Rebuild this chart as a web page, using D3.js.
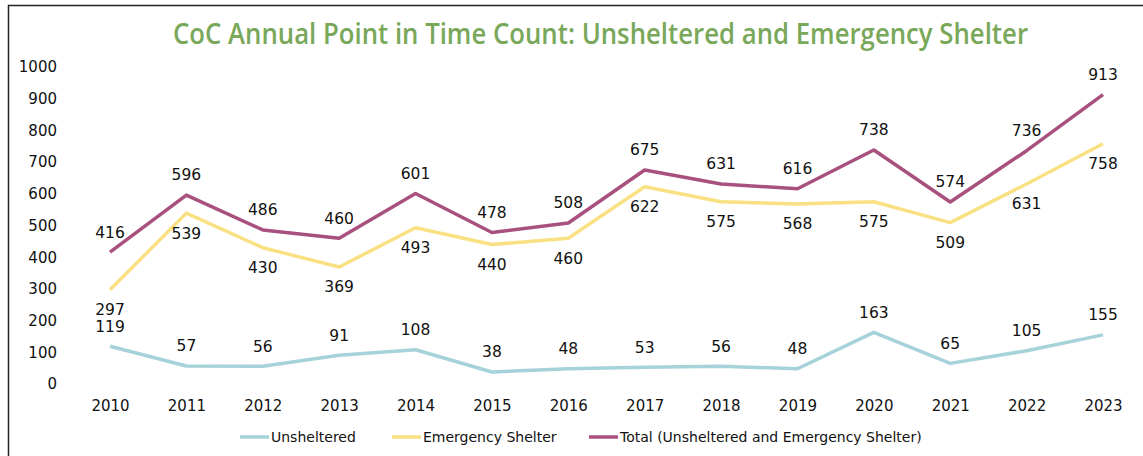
<!DOCTYPE html>
<head>
    <meta charset="utf-8"/>
    <script src="https://d3js.org/d3.v7.min.js"></script>
    <style>
        body { margin: 0; background: #fff; }
        text { font-family: "DejaVu Sans", sans-serif; fill: #111; }
    </style>
</head>
<body>
<script>
    var width = 1143,
        height = 456;

    var years = ["2010", "2011", "2012", "2013", "2014", "2015", "2016", "2017", "2018", "2019", "2020", "2021", "2022", "2023"];
    var unsheltered = [119, 57, 56, 91, 108, 38, 48, 53, 56, 48, 163, 65, 105, 155];
    var emergency = [297, 539, 430, 369, 493, 440, 460, 622, 575, 568, 575, 509, 631, 758];
    var total = [416, 596, 486, 460, 601, 478, 508, 675, 631, 616, 738, 574, 736, 913];
    var yTicks = [0, 100, 200, 300, 400, 500, 600, 700, 800, 900, 1000];

    // label side: -1 above, +1 below
    var series = [
        {name: "Unsheltered", values: unsheltered, color: "#a6d2da", side: -1},
        {name: "Emergency Shelter", values: emergency, color: "#f9e183", side: 1},
        {name: "Total (Unsheltered and Emergency Shelter)", values: total, color: "#a8517f", side: -1}
    ];

    var svg = d3.select("body").append("svg")
        .attr("width", width)
        .attr("height", height);

    // cadre
    svg.append("path")
        .attr("d", "M8.5," + (height + 5) + "V5.5H" + (width + 5))
        .attr("fill", "none")
        .attr("stroke", "#222")
        .attr("stroke-width", 1.5);

    // titre compresse a la largeur voulue
    svg.append("text")
        .attr("x", 173)
        .attr("y", 44)
        .attr("textLength", 855)
        .attr("lengthAdjust", "spacingAndGlyphs")
        .style("font-family", "'Open Sans', sans-serif")
        .style("font-weight", 600)
        .style("font-size", "29px")
        .style("fill", "#79a85a")
        .text("CoC Annual Point in Time Count: Unsheltered and Emergency Shelter");

    var x = d3.scalePoint().domain(years).range([110, 1103]);
    var y = d3.scaleLinear().domain([0, 1000]).range([384, 67]);

    var yAxis = svg.append("g")
        .attr("transform", "translate(57,0)")
        .call(d3.axisLeft(y).tickValues(yTicks).tickSize(0).tickPadding(0).tickFormat(d3.format("d")));
    yAxis.select(".domain").remove();
    yAxis.selectAll("text").style("font-size", "15px").attr("fill", "#111");

    var xAxis = svg.append("g")
        .attr("transform", "translate(0,400)")
        .call(d3.axisBottom(x).tickSize(0).tickPadding(0));
    xAxis.select(".domain").remove();
    xAxis.selectAll("text").style("font-size", "15px").attr("fill", "#111");

    var line = d3.line()
        .x(function (d, i) { return x(years[i]); })
        .y(function (d) { return y(d); });

    series.forEach(function (s) {
        svg.append("path")
            .datum(s.values)
            .attr("fill", "none")
            .attr("stroke", s.color)
            .attr("stroke-width", 3.5)
            .attr("stroke-linejoin", "round")
            .attr("d", line);
    });

    series.forEach(function (s) {
        svg.append("g").selectAll("text")
            .data(s.values)
            .join("text")
            .attr("x", function (d, i) { return x(years[i]); })
            .attr("y", function (d) { return y(d) + s.side * 20; })
            .attr("dy", "0.35em")
            .attr("text-anchor", "middle")
            .style("font-size", "15.5px")
            .text(function (d) { return d; });
    });

    // legende
    var legendX = [240, 392, 589];
    var legend = svg.append("g").selectAll("g")
        .data(series)
        .join("g")
        .attr("transform", function (d, i) { return "translate(" + legendX[i] + ",437)"; });
    legend.append("line")
        .attr("x1", 0).attr("x2", 29)
        .attr("stroke", function (d) { return d.color; })
        .attr("stroke-width", 3.5);
    legend.append("text")
        .attr("x", 31)
        .attr("dy", "0.35em")
        .style("font-size", "14px")
        .text(function (d) { return d.name; });
</script>
</body>
